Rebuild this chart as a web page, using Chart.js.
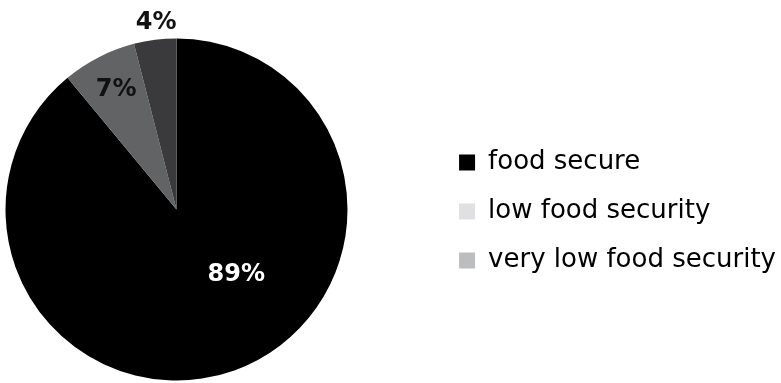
<!DOCTYPE html>
<html>
<head>
<meta charset="utf-8">
<script src="https://cdn.jsdelivr.net/npm/chart.js@4/dist/chart.umd.min.js"></script>
<style>
  html, body { margin: 0; padding: 0; background: #fff; }
  #wrap { width: 781px; height: 383px; position: relative; }
</style>
</head>
<body>
<div id="wrap"><canvas id="chart"></canvas></div>
<script>
const categories = ['food secure', 'low food security', 'very low food security'];
const shares = [89, 7, 4];
const sliceColors = ['#000000', '#626365', '#3a3a3c'];
const legendColors = ['#000000', '#e0e0e2', '#bcbdbf'];
const labelColors = ['#ffffff', '#111111', '#111111'];

// percent labels, placed from each arc's own geometry
const pctLabels = {
  id: 'pctLabels',
  afterDatasetsDraw(chart, args, opts) {
    const ctx = chart.ctx;
    const meta = chart.getDatasetMeta(0);
    ctx.save();
    ctx.font = opts.font;
    ctx.textAlign = 'center';
    ctx.textBaseline = 'middle';
    meta.data.forEach((arc, i) => {
      const p = arc.getProps(['x', 'y', 'startAngle', 'endAngle', 'outerRadius'], true);
      const mid = (p.startAngle + p.endAngle) / 2 + opts.angleShift[i] * Math.PI / 180;
      const r = p.outerRadius * opts.radius[i];
      ctx.fillStyle = labelColors[i];
      ctx.fillText(shares[i] + '%', p.x + Math.cos(mid) * r, p.y + Math.sin(mid) * r + opts.dy);
    });
    ctx.restore();
  }
};

// keep the pie on the left, legend further right
const pieShift = {
  id: 'pieShift',
  afterLayout(chart, args, opts) {
    const a = chart.chartArea;
    a.right = opts.right;
    a.width = a.right - a.left;
    const lg = chart.legend;
    lg.left += opts.legendDx;
    lg.right += opts.legendDx;
    lg.top += opts.legendDy;
    lg.bottom += opts.legendDy;
  }
};

new Chart(document.getElementById('chart'), {
  type: 'pie',
  data: {
    labels: categories,
    datasets: [{
      data: shares,
      backgroundColor: sliceColors,
      borderWidth: 0
    }]
  },
  options: {
    responsive: true,
    maintainAspectRatio: false,
    animation: false,
    events: [],
    radius: 171,
    layout: { padding: { top: 36 } },
    plugins: {
      tooltip: { enabled: false },
      legend: {
        position: 'right',
        align: 'center',
        labels: {
          boxWidth: 16,
          boxHeight: 16,
          padding: 23,
          color: '#231f20',
          font: { family: 'DejaVu Sans', size: 26 },
          generateLabels: (chart) => categories.map((c, i) => ({
            text: c,
            fillStyle: legendColors[i],
            strokeStyle: legendColors[i],
            lineWidth: 0,
            hidden: false,
            index: i
          }))
        }
      },
      pctLabels: {
        font: 'bold 24px "DejaVu Sans"',
        angleShift: [-23, 0.5, 1],
        radius: [0.515, 0.79, 1.105],
        dy: 1
      },
      pieShift: { right: 353, legendDx: 5, legendDy: 2 }
    }
  },
  plugins: [pctLabels, pieShift]
});
</script>
</body>
</html>
